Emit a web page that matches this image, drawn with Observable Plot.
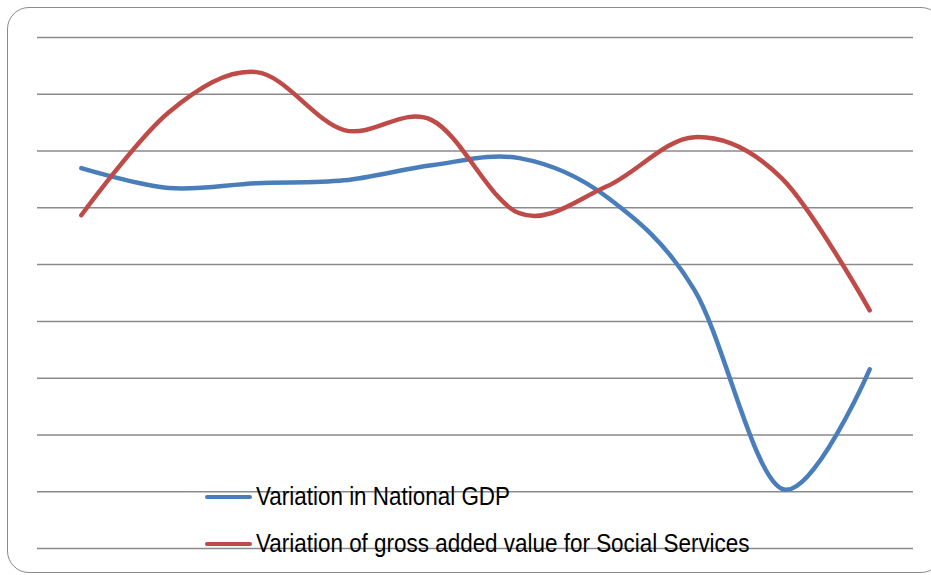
<!DOCTYPE html>
<html>
<head>
<meta charset="utf-8">
<script src="https://cdn.jsdelivr.net/npm/d3@7"></script>
<script src="https://cdn.jsdelivr.net/npm/@observablehq/plot@0.6"></script>
<style>
  html, body { margin: 0; padding: 0; background: #fff; }
  #wrap { position: relative; width: 931px; height: 575px; overflow: hidden; }
  #border { position: absolute; left: 7px; top: 7px; width: 936px; height: 566px;
            border: 1.5px solid #8a8a8a; border-radius: 22px; box-sizing: border-box; }
  #chart { position: absolute; left: 0; top: 0; }
  .leg { position: absolute; left: 205px; height: 0; }
  .leg .sw { position: absolute; left: 0; top: -2.25px; width: 47px; height: 4.5px; border-radius: 2px; }
  .leg .lab { position: absolute; left: 51px; top: -14px; line-height: 28px;
              font-family: "Liberation Sans", Arial, sans-serif;
              font-size: 24px; color: #000; white-space: nowrap;
              transform: scale(0.935, 1.06); transform-origin: 0 50%; }
</style>
</head>
<body>
<div id="wrap">
  <div id="border"></div>
  <div id="chart"></div>
</div>
<script>
const periods = [0, 1, 2, 3, 4, 5, 6, 7, 8, 9];
const gdp    = [3.40, 2.70, 2.87, 2.97, 3.50, 3.75, 2.38, -0.90, -7.90, -3.69];
const social = [1.74, 5.37, 6.78, 4.74, 5.09, 1.81, 2.76, 4.49, 3.03, -1.61];
const seriesNames = ["Variation in National GDP", "Variation of gross added value for Social Services"];
const seriesColors = ["#4a7ebb", "#be4b48"];
const gridTicks = [-10, -8, -6, -4, -2, 0, 2, 4, 6, 8];

const rows = [];
periods.forEach((p, i) => {
  rows.push({period: p, value: gdp[i], series: seriesNames[0]});
  rows.push({period: p, value: social[i], series: seriesNames[1]});
});

const chart = Plot.plot({
  width: 931,
  height: 575,
  marginLeft: 37,
  marginRight: 18,
  marginTop: 37,
  marginBottom: 27,
  style: {background: "transparent"},
  x: {domain: [-0.5, 9.5], axis: null},
  y: {domain: [-10, 8], axis: null},
  color: {domain: seriesNames, range: seriesColors},
  marks: [
    Plot.ruleY(gridTicks, {stroke: "#8a8a8a", strokeWidth: 1.5}),
    Plot.line(rows, {x: "period", y: "value", z: "series", stroke: "series",
      strokeWidth: 4.5, curve: "cardinal", strokeLinecap: "round", strokeLinejoin: "round"})
  ]
});
document.getElementById("chart").appendChild(chart);

const wrap = document.getElementById("wrap");
const legTops = [497, 544];
seriesNames.forEach((name, i) => {
  const d = document.createElement("div");
  d.className = "leg";
  d.style.top = legTops[i] + "px";
  d.innerHTML = `<div class="sw" style="background:${seriesColors[i]}"></div><div class="lab">${name}</div>`;
  wrap.appendChild(d);
});
</script>
</body>
</html>
